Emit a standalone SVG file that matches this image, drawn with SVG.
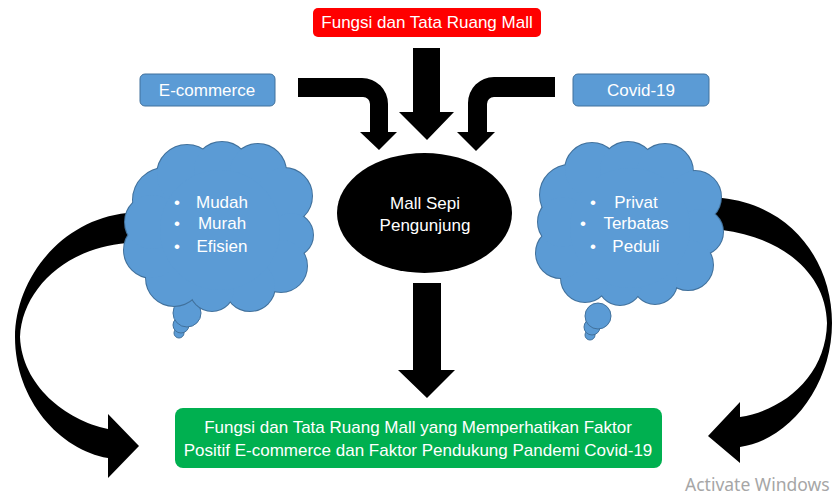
<svg xmlns="http://www.w3.org/2000/svg" width="837" height="496" viewBox="0 0 837 496">
  <style>
    .lbl { font-family: "Liberation Sans", Arial, sans-serif; fill: #ffffff; text-anchor: middle; font-size: 17px; }
    .box-blue { fill: #5B9BD5; stroke: #41719C; stroke-width: 1; }
    .cloud-edge circle { fill: #5B9BD5; stroke: #41719C; stroke-width: 2; }
    .cloud-fill circle { fill: #5B9BD5; stroke: none; }
    .bubble { fill: #5B9BD5; stroke: #41719C; stroke-width: 1; }
    .arrow { fill: #000000; }
  </style>
  <rect width="837" height="496" fill="#ffffff"/>

  <!-- connectors -->
  <g id="connectors" class="arrow">
    <!-- top centre: function & layout into the ellipse -->
    <path d="M413,48 H440 V112 H454 L427,140 L399,112 H413 Z"/>
    <!-- bent arrow from E-commerce -->
    <path d="M298,78 H362 A26,26 0 0 1 388,104 V132 H397 L379,150 L360,132 H370 V104 A7,7 0 0 0 363,97 H298 Z"/>
    <!-- bent arrow from Covid-19 -->
    <path d="M555,77 H494 A26,26 0 0 0 468,103 V132 H457 L476,151 L495,132 H487 V104 A7,7 0 0 1 494,97 H555 Z"/>
    <!-- ellipse down to result -->
    <path d="M413,283 H441 V370 H455 L427,398 L398,370 H413 Z"/>
    <!-- left curved arrow from cloud to result -->
    <path d="M150,213 H127 C60,220 15,280 15,337 C15,400 60,450 108,458 L108,478 L139,446 L108,414 L108,429 C65,420 22,385 20,337 C22,290 65,248 127,243 H150 Z"/>
    <!-- right curved arrow from cloud to result -->
    <path d="M700,198 H722 C790,205 832,260 832,323 C832,385 790,440 740,447 L740,463 L708,436 L740,402 L740,417 C785,410 826,375 827,323 C826,275 785,238 722,230 H700 Z"/>
  </g>

  <!-- top title box -->
  <g id="node-fungsi">
    <rect x="313" y="8" width="228" height="29" rx="5" fill="#FF0000"/>
    <text class="lbl" x="427" y="28">Fungsi dan Tata Ruang Mall</text>
  </g>

  <g id="node-ecommerce">
    <rect class="box-blue" x="140" y="74" width="135" height="32" rx="5"/>
    <text class="lbl" x="207" y="96">E-commerce</text>
  </g>

  <g id="node-covid">
    <rect class="box-blue" x="573" y="74" width="136" height="32" rx="5"/>
    <text class="lbl" x="641" y="96">Covid-19</text>
  </g>

  <g id="node-mall-sepi">
    <ellipse cx="424.5" cy="213" rx="87.5" ry="60" fill="#000000"/>
    <text class="lbl" x="425" y="209" font-size="16.5">Mall Sepi</text>
    <text class="lbl" x="425" y="231" font-size="16.5">Pengunjung</text>
  </g>

  <!-- left thought cloud -->
  <g id="node-cloud-ecommerce">
    <circle class="bubble" cx="179" cy="333" r="5"/>
    <circle class="bubble" cx="181" cy="325" r="8"/>
    <circle class="bubble" cx="187" cy="313" r="14"/>
    <g class="cloud-edge">
      <circle cx="165" cy="200" r="32"/>
      <circle cx="187" cy="175" r="30"/>
      <circle cx="222" cy="170" r="28"/>
      <circle cx="258" cy="172" r="28"/>
      <circle cx="284" cy="196" r="28"/>
      <circle cx="291" cy="235" r="22"/>
      <circle cx="281" cy="266" r="26"/>
      <circle cx="250" cy="286" r="25"/>
      <circle cx="212" cy="289" r="22"/>
      <circle cx="174" cy="278" r="28"/>
      <circle cx="152" cy="250" r="28"/>
      <circle cx="152" cy="222" r="27"/>
      <circle cx="220" cy="230" r="60"/>
    </g>
    <g class="cloud-fill">
      <circle cx="165" cy="200" r="32"/>
      <circle cx="187" cy="175" r="30"/>
      <circle cx="222" cy="170" r="28"/>
      <circle cx="258" cy="172" r="28"/>
      <circle cx="284" cy="196" r="28"/>
      <circle cx="291" cy="235" r="22"/>
      <circle cx="281" cy="266" r="26"/>
      <circle cx="250" cy="286" r="25"/>
      <circle cx="212" cy="289" r="22"/>
      <circle cx="174" cy="278" r="28"/>
      <circle cx="152" cy="250" r="28"/>
      <circle cx="152" cy="222" r="27"/>
      <circle cx="220" cy="230" r="60"/>
    </g>
    <text class="lbl" x="177" y="208">•</text>
    <text class="lbl" x="177" y="229">•</text>
    <text class="lbl" x="177" y="252">•</text>
    <text class="lbl" x="222" y="208">Mudah</text>
    <text class="lbl" x="222" y="229">Murah</text>
    <text class="lbl" x="222" y="252">Efisien</text>
  </g>

  <!-- right thought cloud -->
  <g id="node-cloud-covid">
    <circle class="bubble" cx="590" cy="335" r="5"/>
    <circle class="bubble" cx="592" cy="327" r="8"/>
    <circle class="bubble" cx="598" cy="316" r="13"/>
    <g class="cloud-edge">
      <circle cx="570" cy="195" r="30"/>
      <circle cx="592" cy="170" r="27"/>
      <circle cx="628" cy="170" r="28"/>
      <circle cx="665" cy="172" r="28"/>
      <circle cx="695" cy="197" r="26"/>
      <circle cx="700" cy="232" r="23"/>
      <circle cx="688" cy="265" r="25"/>
      <circle cx="655" cy="282" r="22"/>
      <circle cx="620" cy="283" r="22"/>
      <circle cx="585" cy="278" r="24"/>
      <circle cx="561" cy="253" r="25"/>
      <circle cx="563" cy="222" r="25"/>
      <circle cx="630" cy="228" r="60"/>
    </g>
    <g class="cloud-fill">
      <circle cx="570" cy="195" r="30"/>
      <circle cx="592" cy="170" r="27"/>
      <circle cx="628" cy="170" r="28"/>
      <circle cx="665" cy="172" r="28"/>
      <circle cx="695" cy="197" r="26"/>
      <circle cx="700" cy="232" r="23"/>
      <circle cx="688" cy="265" r="25"/>
      <circle cx="655" cy="282" r="22"/>
      <circle cx="620" cy="283" r="22"/>
      <circle cx="585" cy="278" r="24"/>
      <circle cx="561" cy="253" r="25"/>
      <circle cx="563" cy="222" r="25"/>
      <circle cx="630" cy="228" r="60"/>
    </g>
    <text class="lbl" x="593" y="208">•</text>
    <text class="lbl" x="583" y="229">•</text>
    <text class="lbl" x="593" y="252">•</text>
    <text class="lbl" x="636" y="208">Privat</text>
    <text class="lbl" x="636" y="229">Terbatas</text>
    <text class="lbl" x="636" y="252">Peduli</text>
  </g>

  <!-- result box -->
  <g id="node-hasil">
    <rect x="175" y="408" width="487" height="60" rx="8" fill="#00B050"/>
    <text class="lbl" x="418" y="433">Fungsi dan Tata Ruang Mall yang Memperhatikan Faktor</text>
    <text class="lbl" x="418" y="456">Positif E-commerce dan Faktor Pendukung Pandemi Covid-19</text>
  </g>

  <text x="685" y="491" font-family="'Noto Sans', 'Open Sans', sans-serif" font-size="17.5" fill="#A6A6A6">Activate Windows</text>
</svg>
